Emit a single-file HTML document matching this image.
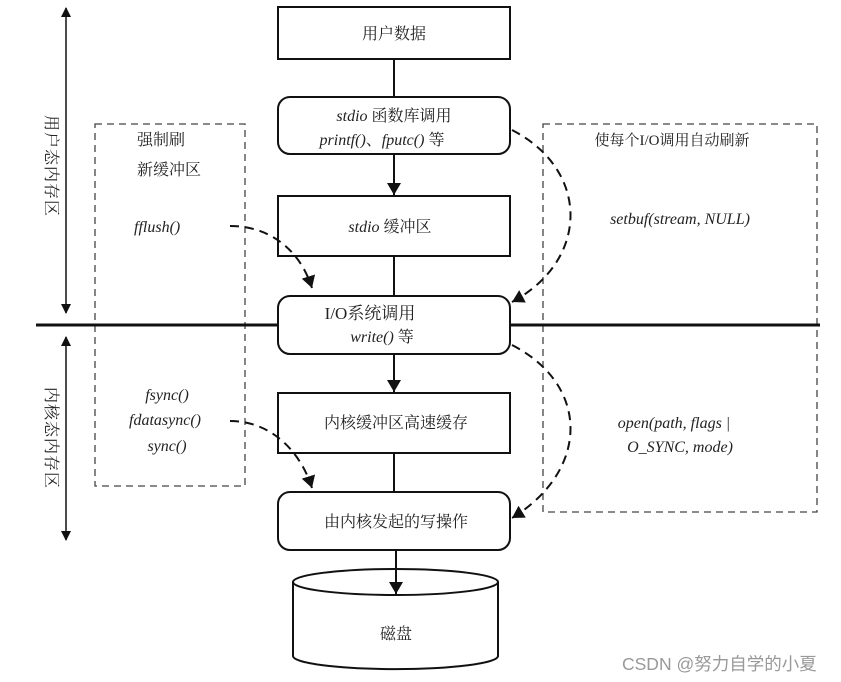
<!DOCTYPE html>
<html><head><meta charset="utf-8"><style>
body{margin:0;background:#fff;}
svg{display:block}
.t{font-family:"Liberation Serif","Noto Serif CJK SC",serif;font-size:16px;fill:#222}
.i{font-style:italic}
</style></head><body>
<svg width="841" height="682" viewBox="0 0 841 682" xmlns="http://www.w3.org/2000/svg">
<defs>
<marker id="a" markerWidth="10" markerHeight="10" refX="9" refY="5" orient="auto-start-reverse" markerUnits="userSpaceOnUse"><path d="M0,0 L10,5 L0,10 Z" fill="#111"/></marker>
<marker id="b" markerWidth="12" markerHeight="14" refX="12" refY="7" orient="auto" markerUnits="userSpaceOnUse"><path d="M0,0 L12,7 L0,14 Z" fill="#111"/></marker>
</defs>
<g stroke="#111" stroke-width="2" fill="none">
<line x1="66" y1="8" x2="66" y2="313" marker-start="url(#a)" marker-end="url(#a)" stroke-width="1.5"/>
<line x1="66" y1="337" x2="66" y2="540" marker-start="url(#a)" marker-end="url(#a)" stroke-width="1.5"/>
<rect x="95" y="124" width="150" height="362" stroke-width="1.3" stroke-dasharray="7,5" stroke="#444"/>
<rect x="543" y="124" width="274" height="388" stroke-width="1.3" stroke-dasharray="7,5" stroke="#444"/>
<line x1="36" y1="325" x2="820" y2="325" stroke-width="3"/>
<rect x="278" y="7" width="232" height="52" fill="#fff"/>
<rect x="278" y="97" width="232" height="57" rx="12" fill="#fff"/>
<rect x="278" y="196" width="232" height="60" fill="#fff"/>
<rect x="278" y="296" width="232" height="58" rx="12" fill="#fff"/>
<rect x="278" y="393" width="232" height="60" fill="#fff"/>
<rect x="278" y="492" width="232" height="58" rx="12" fill="#fff"/>
<line x1="394" y1="59" x2="394" y2="97"/>
<line x1="394" y1="154" x2="394" y2="195" marker-end="url(#b)"/>
<line x1="394" y1="256" x2="394" y2="296"/>
<line x1="394" y1="354" x2="394" y2="392" marker-end="url(#b)"/>
<line x1="394" y1="453" x2="394" y2="492"/>
<path d="M293,582 L293,656 A102,13 0 0 0 498,656 L498,582" fill="#fff"/>
<ellipse cx="395.5" cy="582" rx="102.5" ry="13" fill="#fff"/>
<line x1="396" y1="550" x2="396" y2="594" marker-end="url(#b)"/>
<g stroke-dasharray="9,6" stroke-width="2">
<path d="M230,226 C270,226 300,250 312,288" marker-end="url(#b)"/>
<path d="M230,421 C270,421 300,450 312,488" marker-end="url(#b)"/>
<path d="M512,130 C590,170 590,260 512,302" marker-end="url(#b)"/>
<path d="M512,345 C590,385 590,470 512,518" marker-end="url(#b)"/>
</g>
</g>
<g class="t" text-anchor="middle">
<text x="394" y="39">用户数据</text>
<text x="394" y="121"><tspan class="i">stdio</tspan> 函数库调用</text>
<text x="382" y="145"><tspan class="i">printf()</tspan>、<tspan class="i">fputc()</tspan> 等</text>
<text x="390" y="232"><tspan class="i">stdio</tspan> 缓冲区</text>
<text x="370" y="319" font-size="17">I/O系统调用</text>
<text x="382" y="342"><tspan class="i">write()</tspan> 等</text>
<text x="396" y="428">内核缓冲区高速缓存</text>
<text x="396" y="527">由内核发起的写操作</text>
<text x="396" y="639">磁盘</text>
<text x="167" y="400" class="i">fsync()</text>
<text x="165" y="425" class="i">fdatasync()</text>
<text x="167" y="451" class="i">sync()</text>
<text x="672" y="145" font-size="15">使每个I/O调用自动刷新</text>
<text x="680" y="224" class="i">setbuf(stream, NULL)</text>
<text x="674" y="428" class="i">open(path, flags |</text>
<text x="680" y="452" class="i">O_SYNC, mode)</text>
</g>
<g class="t">
<text x="137" y="145">强制刷</text>
<text x="137" y="175">新缓冲区</text>
<text x="134" y="232" class="i">fflush()</text>
</g>
<g class="t" font-size="17" text-anchor="middle">
<text transform="translate(46,166) rotate(90)" letter-spacing="1">用户态内存区</text>
<text transform="translate(46,438) rotate(90)" letter-spacing="1">内核态内存区</text>
</g>
<text x="622" y="670" font-family="Liberation Sans,Noto Sans CJK SC,sans-serif" font-size="17.5" fill="#999">CSDN @努力自学的小夏</text>
</svg>
</body></html>
